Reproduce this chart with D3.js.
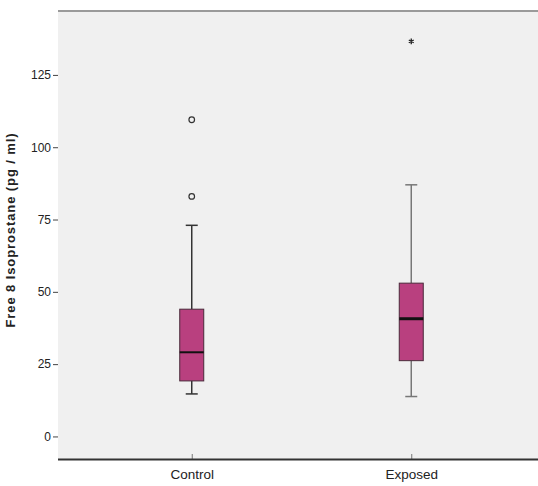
<!DOCTYPE html>
<html>
<head>
<meta charset="utf-8">
<script src="https://cdn.jsdelivr.net/npm/d3@7"></script>
<style>
  body { margin: 0; background: #fff; }
  text { font-family: "Liberation Sans", Arial, sans-serif; }
</style>
</head>
<body>
<div id="chart"></div>
<script>
// values
const groups = ["Control", "Exposed"];
const whiskerLow = [14.7, 13.8];
const q1 = [19.2, 26.2];
const medians = [29.1, 40.7];
const q3 = [44, 53];
const whiskerHigh = [73, 87];
const outliers = [
  { group: "Control", value: 109.5, kind: "circle" },
  { group: "Control", value: 83, kind: "circle" },
  { group: "Exposed", value: 136.6, kind: "star" }
];
const yTicks = [0, 25, 50, 75, 100, 125];

const svgWidth = 538;
const svgHeight = 486;
const plot = { left: 58, right: 538, top: 11, bottom: 459 };

const svg = d3.select("#chart")
  .append("svg")
  .attr("width", svgWidth)
  .attr("height", svgHeight);

const xScale = d3.scalePoint()
  .domain(groups)
  .range([62, 541])
  .padding(0.591);

const yScale = d3.scaleLinear()
  .domain([-7.8, 147.1])
  .range([plot.bottom, plot.top]);

// plot background
svg.append("rect")
  .attr("x", plot.left)
  .attr("y", plot.top)
  .attr("width", plot.right - plot.left)
  .attr("height", plot.bottom - plot.top)
  .attr("fill", "#f0f0f0");

// top frame line
svg.append("line")
  .attr("x1", plot.left).attr("x2", plot.right)
  .attr("y1", plot.top).attr("y2", plot.top)
  .attr("stroke", "#9a9a9a")
  .attr("stroke-width", 2);

// y axis
const yAxis = svg.append("g")
  .attr("transform", `translate(${plot.left},0)`)
  .call(d3.axisLeft(yScale).tickValues(yTicks).tickSize(5).tickPadding(2));
yAxis.select(".domain").remove();
yAxis.selectAll(".tick line").attr("stroke", "#444");
yAxis.selectAll(".tick text")
  .attr("font-size", "12px")
  .attr("font-family", "'Liberation Sans', Arial, sans-serif")
  .attr("fill", "#222");

// x axis
const xAxis = svg.append("g")
  .attr("transform", `translate(0,${plot.bottom})`)
  .call(d3.axisBottom(xScale).tickSize(-5).tickPadding(10));
xAxis.select(".domain").remove();
xAxis.selectAll(".tick line").attr("stroke", "#777");
xAxis.selectAll(".tick text")
  .attr("font-size", "13.5px")
  .attr("font-family", "'Liberation Sans', Arial, sans-serif")
  .attr("fill", "#222");

svg.append("line")
  .attr("x1", plot.left).attr("x2", plot.right)
  .attr("y1", plot.bottom + 0.5).attr("y2", plot.bottom + 0.5)
  .attr("stroke", "#333")
  .attr("stroke-width", 2);

// y axis title
svg.append("text")
  .attr("transform", `translate(15, 230) rotate(-90)`)
  .attr("text-anchor", "middle")
  .attr("font-size", "13px")
  .attr("font-weight", "bold")
  .attr("letter-spacing", "0.9px")
  .attr("fill", "#222")
  .text("Free 8 Isoprostane (pg / ml)");

// boxes
const boxW = 24;
const capW = 12;
const whiskerColors = ["#333", "#777"];
const medianWidths = [2, 3];

groups.forEach((g, i) => {
  const cx = xScale(g);
  const grp = svg.append("g");

  // whiskers
  grp.append("line")
    .attr("x1", cx).attr("x2", cx)
    .attr("y1", yScale(whiskerHigh[i])).attr("y2", yScale(q3[i]))
    .attr("stroke", whiskerColors[i]).attr("stroke-width", 1.5);
  grp.append("line")
    .attr("x1", cx).attr("x2", cx)
    .attr("y1", yScale(q1[i])).attr("y2", yScale(whiskerLow[i]))
    .attr("stroke", whiskerColors[i]).attr("stroke-width", 1.5);
  [whiskerHigh[i], whiskerLow[i]].forEach(v => {
    grp.append("line")
      .attr("x1", cx - capW / 2).attr("x2", cx + capW / 2)
      .attr("y1", yScale(v)).attr("y2", yScale(v))
      .attr("stroke", whiskerColors[i]).attr("stroke-width", 1.5);
  });

  // box
  grp.append("rect")
    .attr("x", cx - boxW / 2)
    .attr("y", yScale(q3[i]))
    .attr("width", boxW)
    .attr("height", yScale(q1[i]) - yScale(q3[i]))
    .attr("fill", "#b9407f")
    .attr("stroke", "#4a2a3a")
    .attr("stroke-width", 1);

  // median
  grp.append("line")
    .attr("x1", cx - boxW / 2).attr("x2", cx + boxW / 2)
    .attr("y1", yScale(medians[i])).attr("y2", yScale(medians[i]))
    .attr("stroke", "#111").attr("stroke-width", medianWidths[i]);
});

// outliers
outliers.forEach(o => {
  const cx = xScale(o.group);
  const cy = yScale(o.value);
  if (o.kind === "circle") {
    svg.append("circle")
      .attr("cx", cx).attr("cy", cy).attr("r", 2.8)
      .attr("fill", "none")
      .attr("stroke", "#333")
      .attr("stroke-width", 1.2);
  } else {
    svg.append("path")
      .attr("transform", `translate(${cx},${cy})`)
      .attr("d", d3.symbol(d3.symbolAsterisk, 22)())
      .attr("stroke", "#222")
      .attr("stroke-width", 1.3)
      .attr("fill", "none");
  }
});
</script>
</body>
</html>
